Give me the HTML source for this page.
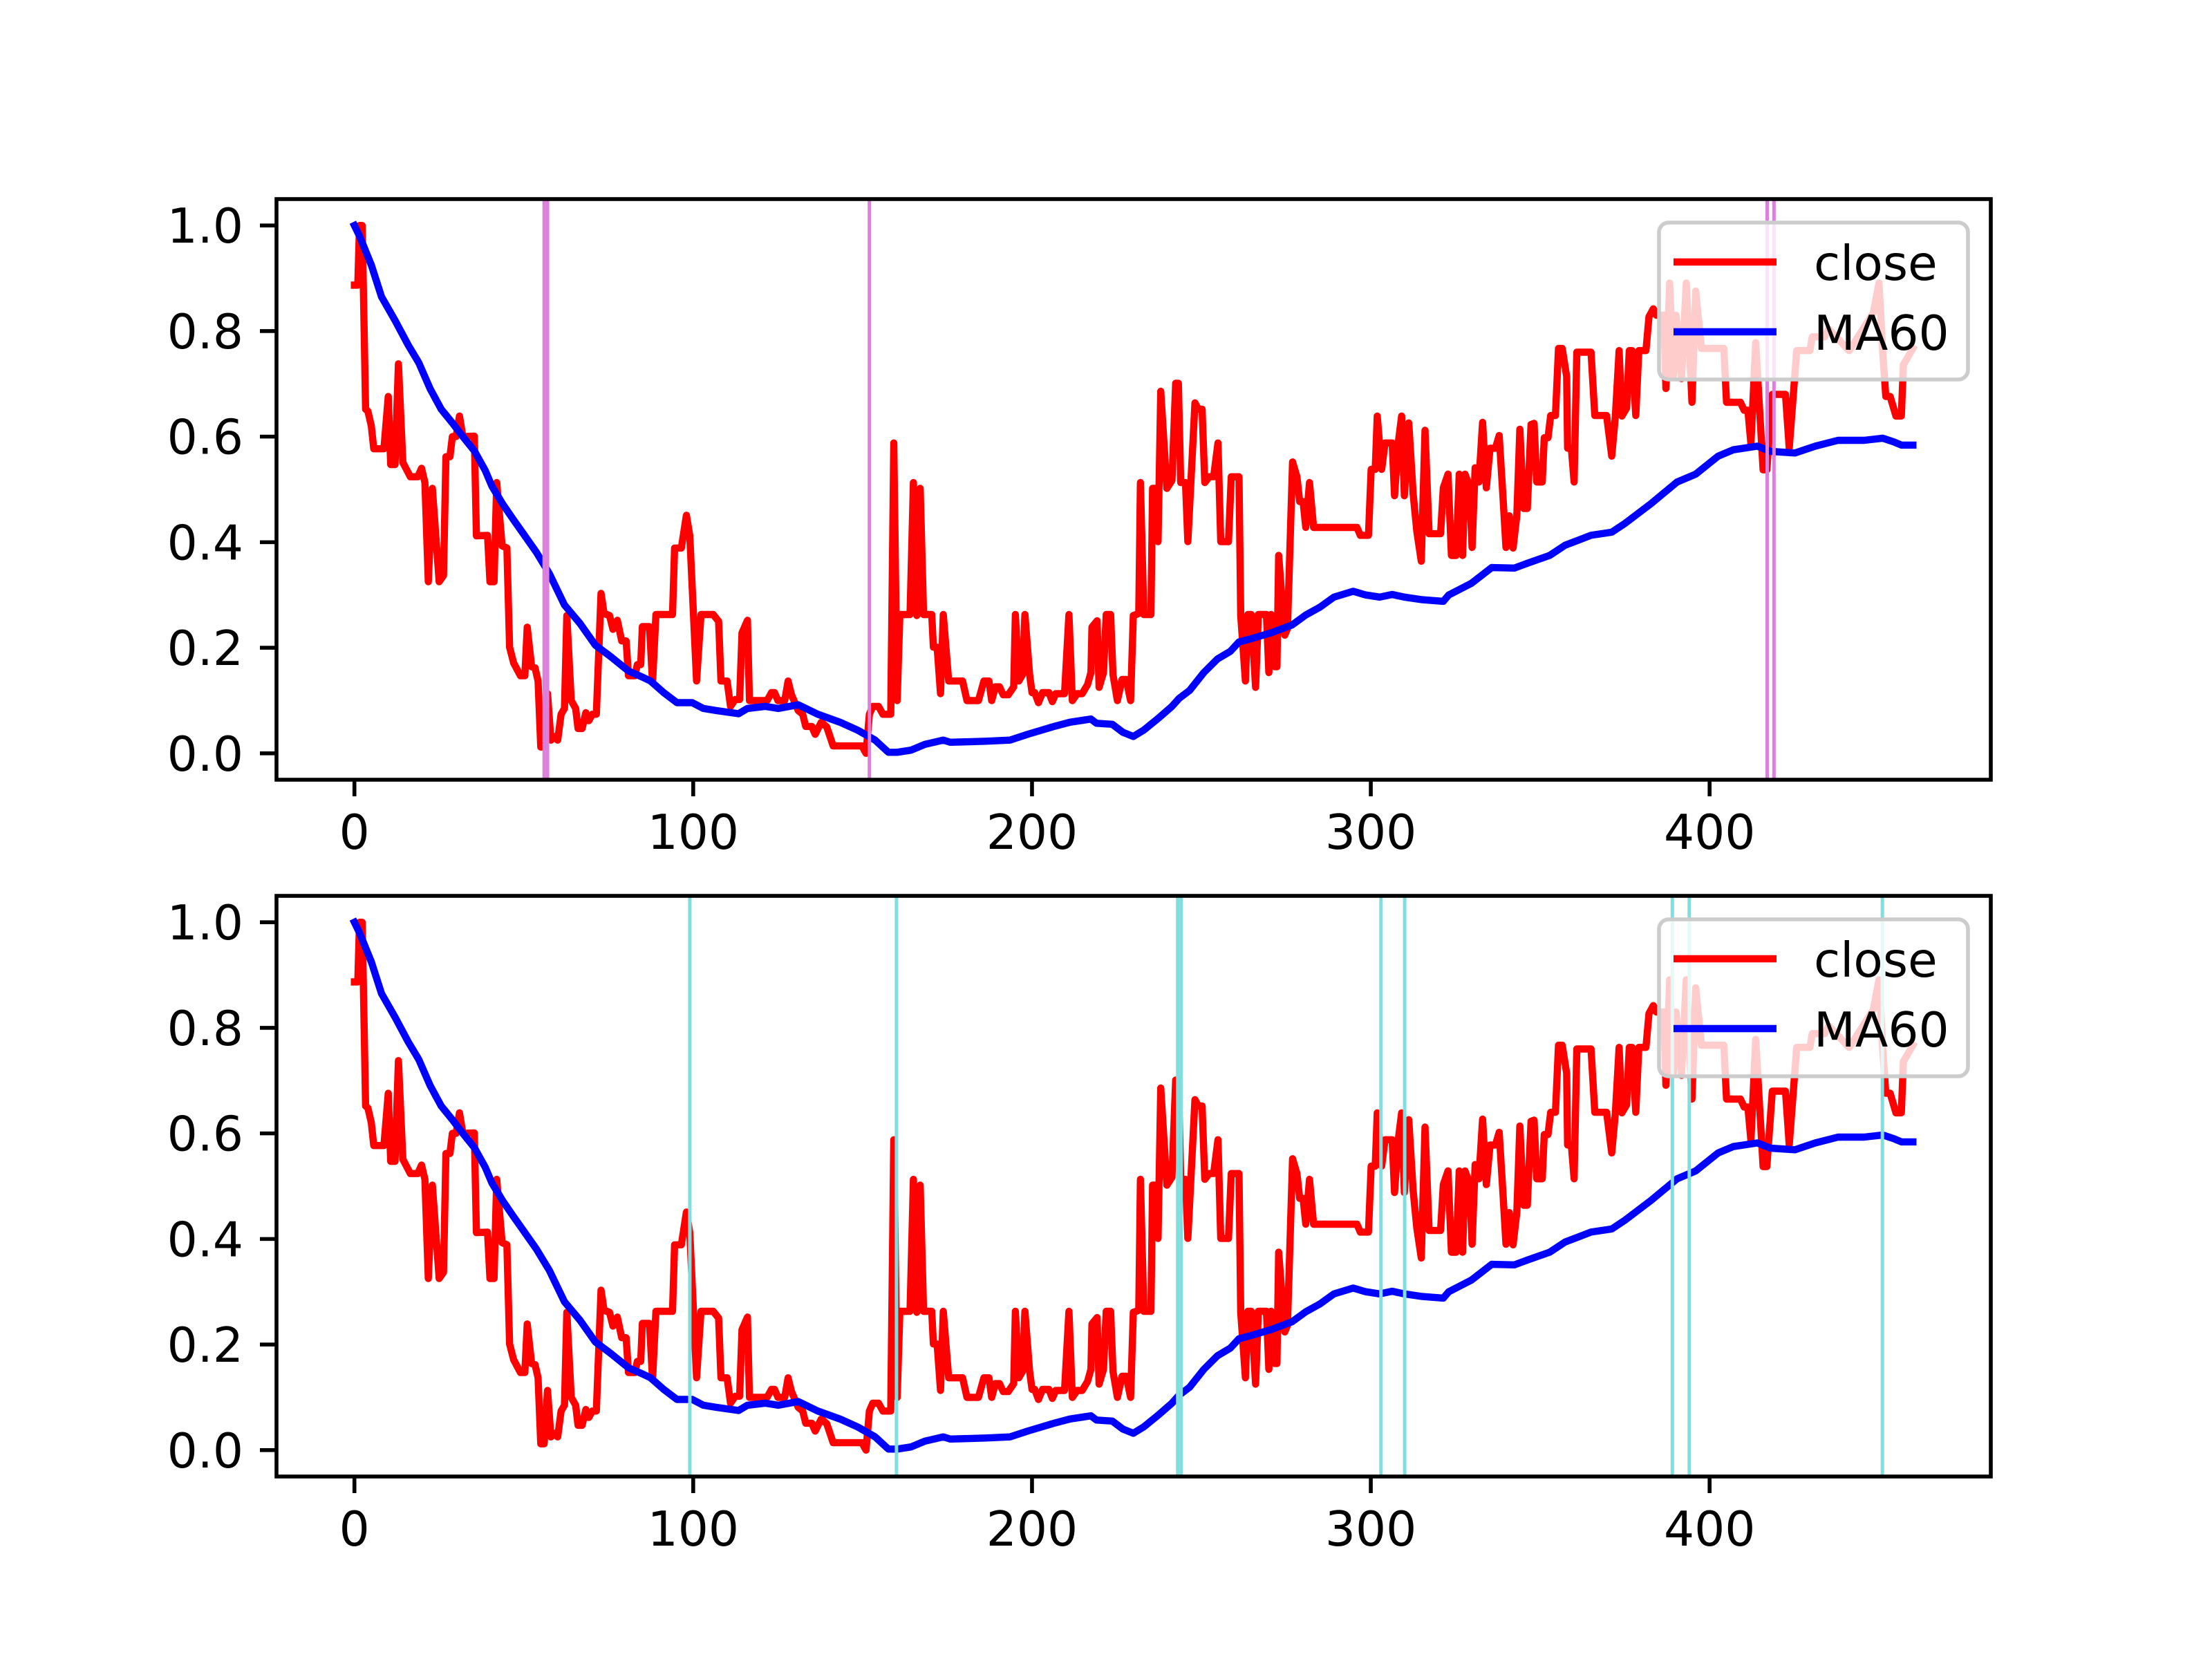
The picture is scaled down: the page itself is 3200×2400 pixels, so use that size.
<!DOCTYPE html>
<html><head><meta charset="utf-8"><title>close vs MA60</title>
<style>html,body{margin:0;padding:0;background:#fff}svg{display:block}</style></head>
<body>
<svg id="fig" xmlns="http://www.w3.org/2000/svg" width="3200" height="2400" viewBox="0 0 3200 2400">
<rect x="0" y="0" width="3200" height="2400" fill="#fff"/>
</svg>
<script>
const closeX=[0,1,1.5,2.3,3.3,4,5,5.7,8.7,10,10.7,12,13,14.3,15.2,16.5,18.7,19.8,20.8,21.8,23,25,26.3,27,28.2,28.9,30,31,32,35.4,36,39.3,40,41.2,42,43.6,45,45.8,47,49,50.3,51,52.3,53.3,54.2,55,56,57,58,59,60,61,62,62.7,64,65.3,66,67.2,68.3,69.2,70.2,71.4,72.8,73.7,75.3,76.3,77.6,78.9,80.2,80.9,82.8,83.5,84.5,85,87.1,88,89,93.9,94.5,96.5,98,99,101,102.3,105.9,107.5,108.2,110,111,112.4,113.7,114.4,116,116.6,121.8,123.1,124,125,127,128,129,131,132.3,133.2,135,136,137.8,139.4,141.3,149.8,151,152,153,154.7,156,158.3,159.2,160.2,161,164,165,166,167,168,170.4,170.9,172,173,173.8,175.4,179.5,180.8,184.2,185.8,187.3,188.1,189.2,190.4,191.5,193,194.6,195.1,196.1,197.2,197.9,199.3,200,200.8,201.9,203.1,205,206,207,209.6,210.9,211.9,213.3,214.8,216.4,217.4,217.7,219.2,219.8,221.1,221.9,223.2,223.9,225.2,226.6,227.8,229.1,229.9,231.5,232,233,235.1,235.6,236.7,237.2,238,239.8,241.3,242.4,243.2,243.9,245.3,246,248.1,249.1,250.2,251,252.3,253.6,254.9,255.7,258,258.8,261.1,261.6,263,263.7,264.7,266,266.8,269.2,269.9,270.6,271.7,272.3,272.8,274.6,275.4,276.9,278.2,279,280,280.8,281.9,283.1,295.9,296.9,299.3,300.1,301.3,301.9,303.2,304.2,306.3,307,308.1,309.1,309.9,311.2,312.5,313.6,314.9,316,317.2,320.6,321.4,322.8,323.8,325.2,326.1,327.1,327.8,329.1,329.9,330.8,331.9,333,334.1,335.2,336.8,337.9,339,339.9,340.9,342,343.1,344,345.1,346.2,347.3,348.2,349,350.6,351.2,352.3,353.1,354.5,355.4,356.5,357.8,358.1,359.2,360,360.8,365,366.1,369.6,371.1,372.2,373.3,374.1,375.5,376.3,377.1,378.2,379.1,381.2,382.1,383.4,384.3,386.5,387.1,388.2,389.3,390.1,391.7,393.1,394.8,395.9,397.6,404.2,405,409.1,410.2,411.3,412.2,413.6,415.8,416.9,418.5,422.4,423.5,425.7,429.6,430.3,434,435.1,441.2,448.3,450,451.1,452,453.3,455,456.6,457.2,460];
const closeY=[.887,.887,1,1,.652,.648,.62,.577,.577,.676,.547,.547,.738,.551,.54,.524,.524,.54,.513,.325,.502,.325,.337,.562,.562,.6,.6,.639,.6,.601,.412,.413,.325,.325,.513,.393,.389,.201,.171,.147,.147,.239,.164,.162,.137,.012,.012,.113,.025,.032,.025,.074,.085,.261,.1,.085,.047,.047,.077,.062,.074,.074,.303,.265,.261,.235,.252,.213,.213,.147,.147,.168,.168,.24,.24,.134,.263,.263,.389,.389,.451,.412,.137,.263,.263,.25,.137,.137,.089,.102,.102,.228,.252,.1,.1,.115,.115,.1,.1,.137,.111,.081,.074,.051,.051,.036,.059,.05,.014,.014,0,.074,.089,.089,.074,.074,.588,.1,.263,.263,.513,.261,.502,.263,.263,.201,.201,.113,.263,.137,.137,.1,.1,.137,.137,.1,.126,.126,.111,.111,.126,.263,.137,.149,.263,.149,.115,.115,.096,.115,.115,.098,.113,.113,.263,.1,.113,.113,.13,.153,.239,.251,.125,.153,.263,.263,.149,.1,.14,.14,.1,.261,.265,.513,.263,.263,.502,.502,.401,.686,.502,.517,.701,.701,.513,.513,.401,.664,.652,.652,.513,.524,.524,.588,.401,.401,.524,.524,.261,.137,.263,.263,.125,.263,.263,.153,.263,.164,.164,.375,.224,.236,.552,.524,.477,.477,.428,.513,.428,.428,.413,.413,.538,.538,.639,.538,.588,.588,.488,.588,.639,.488,.626,.492,.42,.364,.612,.416,.416,.503,.529,.375,.375,.529,.375,.529,.507,.39,.541,.514,.627,.503,.578,.578,.602,.488,.39,.45,.389,.45,.614,.464,.464,.623,.625,.514,.514,.598,.598,.64,.64,.767,.767,.714,.578,.578,.514,.76,.76,.64,.64,.563,.639,.763,.639,.654,.763,.763,.64,.763,.763,.827,.842,.83,.83,.691,.891,.714,.83,.71,.891,.665,.876,.767,.767,.665,.665,.65,.65,.586,.778,.537,.537,.68,.68,.578,.763,.763,.789,.789,.804,.763,.834,.891,.759,.676,.676,.639,.639,.736,.767];
const maX=[0,1.5,5,8,12,15.9,19,22.4,25.6,28.9,32,35.4,38.6,40.6,43.8,47,50.3,53.6,57.5,62,66.6,71.1,75.7,80.9,84.8,87.4,91.3,95.2,99.7,103,106.9,113.4,116,121.2,125.1,131,136.8,143.3,148.5,153.7,157.6,160.2,164.3,168.4,173.8,175.9,186.3,193.5,198.7,206,211.2,217.4,219,223.7,226.8,229.9,233,237.2,241.3,243.4,246.5,250.7,254.8,258.5,261.1,265.2,270.4,276.7,280.8,285,289.1,294.8,298.5,302.6,306.3,309.9,315.2,321.4,323,329.7,335.7,342.4,346.2,352.8,357.3,365,371.1,374.9,382.7,390.4,395.9,402.5,407,414.1,418,425.2,431.2,437.9,445.6,451.1,454.4,456.6,460];
const maY=[1,.98,.925,.865,.82,.773,.74,.69,.652,.626,.6,.573,.536,.506,.472,.442,.412,.382,.341,.281,.246,.205,.183,.156,.145,.137,.115,.096,.096,.085,.081,.075,.085,.089,.085,.092,.074,.059,.044,.025,.002,.002,.006,.017,.025,.021,.023,.025,.036,.05,.059,.065,.057,.055,.04,.032,.044,.066,.089,.104,.119,.153,.179,.193,.211,.218,.228,.243,.262,.277,.296,.307,.3,.296,.301,.296,.291,.288,.3,.322,.352,.351,.36,.375,.394,.413,.419,.435,.473,.514,.529,.563,.575,.582,.572,.569,.582,.593,.593,.597,.59,.584,.584];
const topSignals=[56,57,152,417,419];
const bottomSignals=[99,160,243,244,303,310,389,394,451];
const xTicks=[0,100,200,300,400];
const yTicks=[0,0.2,0.4,0.6,0.8,1.0];
const yTickLabels=["0.0","0.2","0.4","0.6","0.8","1.0"];
const legendLabels=["close","MA60"];

const NS="http://www.w3.org/2000/svg";
const svg=document.getElementById('fig');
const AX_L=400,AX_R=2880,AX_H=840;
const XMIN=-23,XMAX=483,YMIN=-0.05,YMAX=1.05;
function sx(v){return AX_L+(v-XMIN)/(XMAX-XMIN)*(AX_R-AX_L);}
function mk(tag,attrs,parent){const e=document.createElementNS(NS,tag);for(const k in attrs)e.setAttribute(k,attrs[k]);(parent||svg).appendChild(e);return e;}
const FONT='"DejaVu Sans","Liberation Sans",sans-serif';

function panel(top,signals,sigColor,sigW,name){
  const g=mk('g',{});
  
  
  const sy=v=>top+(YMAX-v)/(YMAX-YMIN)*AX_H;
  const cid='clip-'+name;
  const cp=mk('clipPath',{id:cid},g);
  mk('rect',{x:AX_L,y:top,width:AX_R-AX_L,height:AX_H},cp);
  const plot=mk('g',{'clip-path':'url(#'+cid+')'},g);
  
  
  let d='';closeX.forEach((x,i)=>{d+=(i?'L':'M')+sx(x).toFixed(1)+','+sy(closeY[i]).toFixed(1);});
  const pc=mk('path',{d:d,fill:'none',stroke:'#ff0000','stroke-width':10.4,'stroke-linejoin':'round','stroke-linecap':'square'},plot);
  
  
  d='';maX.forEach((x,i)=>{d+=(i?'L':'M')+sx(x).toFixed(1)+','+sy(maY[i]).toFixed(1);});
  const pm=mk('path',{d:d,fill:'none',stroke:'#0000ff','stroke-width':10.4,'stroke-linejoin':'round','stroke-linecap':'square'},plot);
  
  
  signals.forEach(s=>{
    const l=mk('line',{x1:sx(s),x2:sx(s),y1:top,y2:top+AX_H,stroke:sigColor,'stroke-width':sigW},plot);
    
    
  });
  xTicks.forEach(t=>{
    const x=sx(t);
    const tk=mk('line',{x1:x,x2:x,y1:top+AX_H,y2:top+AX_H+24,stroke:'#000','stroke-width':5.6},g);
    
    
    const tx=mk('text',{x:x,y:top+AX_H+100,'text-anchor':'middle','font-size':69.4,'font-family':FONT,fill:'#000'},g);
    tx.textContent=String(t);
    
    
  });
  yTicks.forEach((t,i)=>{
    const y=sy(t);
    const tk=mk('line',{x1:AX_L-24,x2:AX_L,y1:y,y2:y,stroke:'#000','stroke-width':5.6},g);
    
    
    const tx=mk('text',{x:352,y:y+25,'text-anchor':'end','font-size':69.4,'font-family':FONT,fill:'#000'},g);
    tx.textContent=yTickLabels[i];
    
    
  });
  const fr=mk('rect',{x:AX_L,y:top,width:AX_R-AX_L,height:AX_H,fill:'none',stroke:'#000','stroke-width':5.6},g);
  
  
  const lg=mk('g',{},g);
  
  
  const off=top-288;
  mk('rect',{x:2400,y:322+off,width:447,height:227,rx:14,fill:'#fff','fill-opacity':0.8,stroke:'#cccccc','stroke-width':5.6},lg);
  const cols=['#ff0000','#0000ff'];
  legendLabels.forEach((lab,i)=>{
    const yy=379+off+i*101;
    const ll=mk('line',{x1:2421,x2:2570,y1:yy,y2:yy,stroke:cols[i],'stroke-width':10.4},lg);
    
    
    const tt=mk('text',{x:2624,y:yy+26,'font-size':69.4,'font-family':FONT,fill:'#000'},lg);
    tt.textContent=lab;
    
    
  });
}
panel(288,topSignals,'#dc80dc',5,'top-panel');
panel(1296,bottomSignals,'#80dede',5,'bottom-panel');
</script>
</body></html>
